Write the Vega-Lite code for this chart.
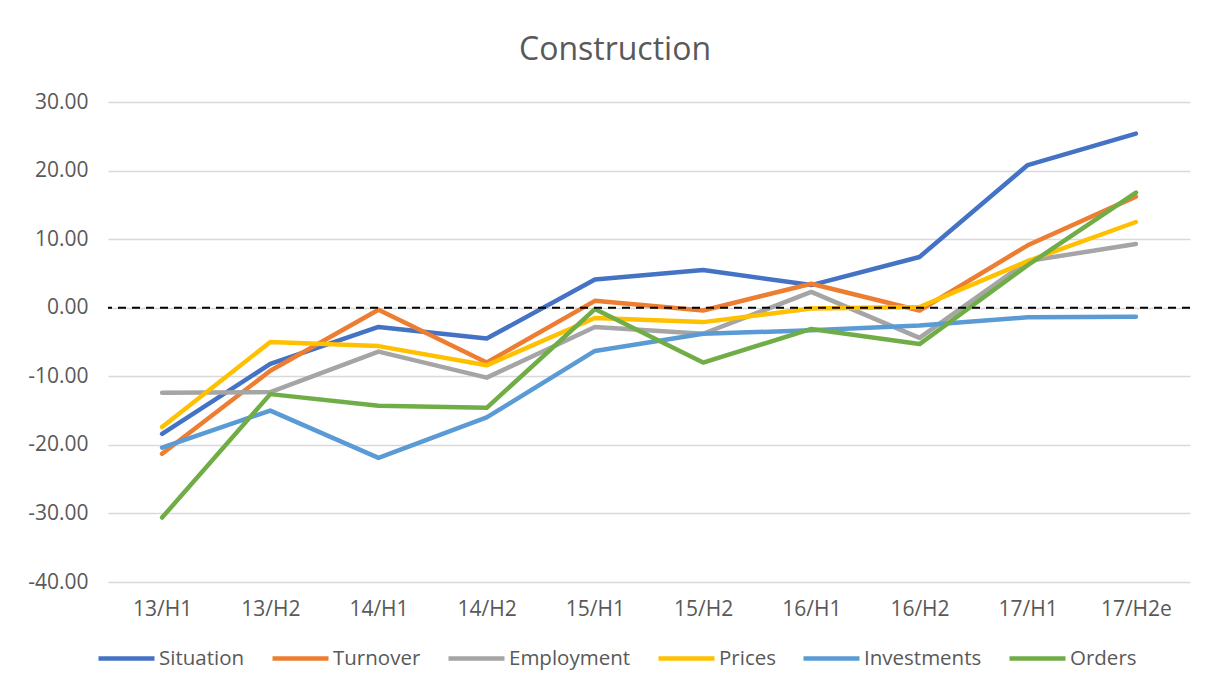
{
  "$schema": "https://vega.github.io/schema/vega-lite/v6.json",
  "width": 1082,
  "height": 480,
  "autosize": {"type": "none"},
  "padding": {"left": 108, "top": 102, "right": 18, "bottom": 107},
  "background": "white",
  "title": {"text": "Construction", "fontSize": 32, "font": "Open Sans", "fontWeight": "normal", "color": "#595959", "offset": 24, "anchor": "middle", "dx": -34},
  "config": {
    "view": {"stroke": null},
    "font": "Open Sans"
  },
  "datasets": {
    "series": [
      {"period": "13/H1", "series": "Situation", "value": -18.4},
      {"period": "13/H2", "series": "Situation", "value": -8.2},
      {"period": "14/H1", "series": "Situation", "value": -2.8},
      {"period": "14/H2", "series": "Situation", "value": -4.5},
      {"period": "15/H1", "series": "Situation", "value": 4.1},
      {"period": "15/H2", "series": "Situation", "value": 5.5},
      {"period": "16/H1", "series": "Situation", "value": 3.3},
      {"period": "16/H2", "series": "Situation", "value": 7.4},
      {"period": "17/H1", "series": "Situation", "value": 20.8},
      {"period": "17/H2e", "series": "Situation", "value": 25.4},
      {"period": "13/H1", "series": "Turnover", "value": -21.3},
      {"period": "13/H2", "series": "Turnover", "value": -9.2},
      {"period": "14/H1", "series": "Turnover", "value": -0.3},
      {"period": "14/H2", "series": "Turnover", "value": -8.0},
      {"period": "15/H1", "series": "Turnover", "value": 1.0},
      {"period": "15/H2", "series": "Turnover", "value": -0.4},
      {"period": "16/H1", "series": "Turnover", "value": 3.5},
      {"period": "16/H2", "series": "Turnover", "value": -0.4},
      {"period": "17/H1", "series": "Turnover", "value": 9.1},
      {"period": "17/H2e", "series": "Turnover", "value": 16.2},
      {"period": "13/H1", "series": "Employment", "value": -12.4},
      {"period": "13/H2", "series": "Employment", "value": -12.3},
      {"period": "14/H1", "series": "Employment", "value": -6.4},
      {"period": "14/H2", "series": "Employment", "value": -10.2},
      {"period": "15/H1", "series": "Employment", "value": -2.8},
      {"period": "15/H2", "series": "Employment", "value": -3.8},
      {"period": "16/H1", "series": "Employment", "value": 2.3},
      {"period": "16/H2", "series": "Employment", "value": -4.4},
      {"period": "17/H1", "series": "Employment", "value": 6.8},
      {"period": "17/H2e", "series": "Employment", "value": 9.3},
      {"period": "13/H1", "series": "Prices", "value": -17.4},
      {"period": "13/H2", "series": "Prices", "value": -5.0},
      {"period": "14/H1", "series": "Prices", "value": -5.6},
      {"period": "14/H2", "series": "Prices", "value": -8.4},
      {"period": "15/H1", "series": "Prices", "value": -1.5},
      {"period": "15/H2", "series": "Prices", "value": -2.1},
      {"period": "16/H1", "series": "Prices", "value": -0.1},
      {"period": "16/H2", "series": "Prices", "value": 0.1},
      {"period": "17/H1", "series": "Prices", "value": 6.8},
      {"period": "17/H2e", "series": "Prices", "value": 12.5},
      {"period": "13/H1", "series": "Investments", "value": -20.4},
      {"period": "13/H2", "series": "Investments", "value": -15.0},
      {"period": "14/H1", "series": "Investments", "value": -21.9},
      {"period": "14/H2", "series": "Investments", "value": -16.0},
      {"period": "15/H1", "series": "Investments", "value": -6.3},
      {"period": "15/H2", "series": "Investments", "value": -3.8},
      {"period": "16/H1", "series": "Investments", "value": -3.3},
      {"period": "16/H2", "series": "Investments", "value": -2.6},
      {"period": "17/H1", "series": "Investments", "value": -1.4},
      {"period": "17/H2e", "series": "Investments", "value": -1.3},
      {"period": "13/H1", "series": "Orders", "value": -30.6},
      {"period": "13/H2", "series": "Orders", "value": -12.6},
      {"period": "14/H1", "series": "Orders", "value": -14.3},
      {"period": "14/H2", "series": "Orders", "value": -14.6},
      {"period": "15/H1", "series": "Orders", "value": -0.2},
      {"period": "15/H2", "series": "Orders", "value": -8.0},
      {"period": "16/H1", "series": "Orders", "value": -3.1},
      {"period": "16/H2", "series": "Orders", "value": -5.3},
      {"period": "17/H1", "series": "Orders", "value": 6.2},
      {"period": "17/H2e", "series": "Orders", "value": 16.8}
    ],
    "zero": [{"zero": 0}]
  },
  "layer": [
    {
      "data": {"name": "series"},
      "mark": {"type": "line", "strokeWidth": 4.5, "strokeCap": "round", "strokeJoin": "round"},
      "encoding": {
        "x": {
          "field": "period", "type": "ordinal", "sort": null,
          "scale": {"type": "point", "padding": 0.5},
          "axis": {"title": null, "labelAngle": 0, "ticks": false, "domain": false, "labelFontSize": 21, "labelColor": "#595959", "labelPadding": 16, "labelFont": "Open Sans"}
        },
        "y": {
          "field": "value", "type": "quantitative",
          "scale": {"domain": [-40, 30], "nice": false},
          "axis": {"title": null, "values": [-40, -30, -20, -10, 0, 10, 20, 30], "labelExpr": "replace(format(datum.value, '.2f'), '\u2212', '-')", "ticks": false, "domain": false, "labelFontSize": 21, "labelColor": "#595959", "labelPadding": 20, "gridColor": "#D9D9D9", "gridWidth": 1.5, "labelFont": "Open Sans"}
        },
        "color": {
          "field": "series", "type": "nominal",
          "scale": {"domain": ["Situation", "Turnover", "Employment", "Prices", "Investments", "Orders"], "range": ["#4472C4", "#ED7D31", "#A5A5A5", "#FFC000", "#5B9BD5", "#70AD47"]},
          "legend": {"title": null, "orient": "none", "legendX": -12, "legendY": 526, "direction": "horizontal", "symbolType": "stroke", "symbolSize": 3136, "symbolStrokeWidth": 4.5, "labelFontSize": 20.5, "labelColor": "#595959", "labelOffset": 2, "columnPadding": 18, "labelFont": "Open Sans"}
        }
      }
    },
    {
      "data": {"name": "zero"},
      "mark": {"type": "rule", "color": "#000000", "strokeWidth": 2, "strokeDash": [8, 6]},
      "encoding": {"y": {"field": "zero", "type": "quantitative"}}
    }
  ]
}
